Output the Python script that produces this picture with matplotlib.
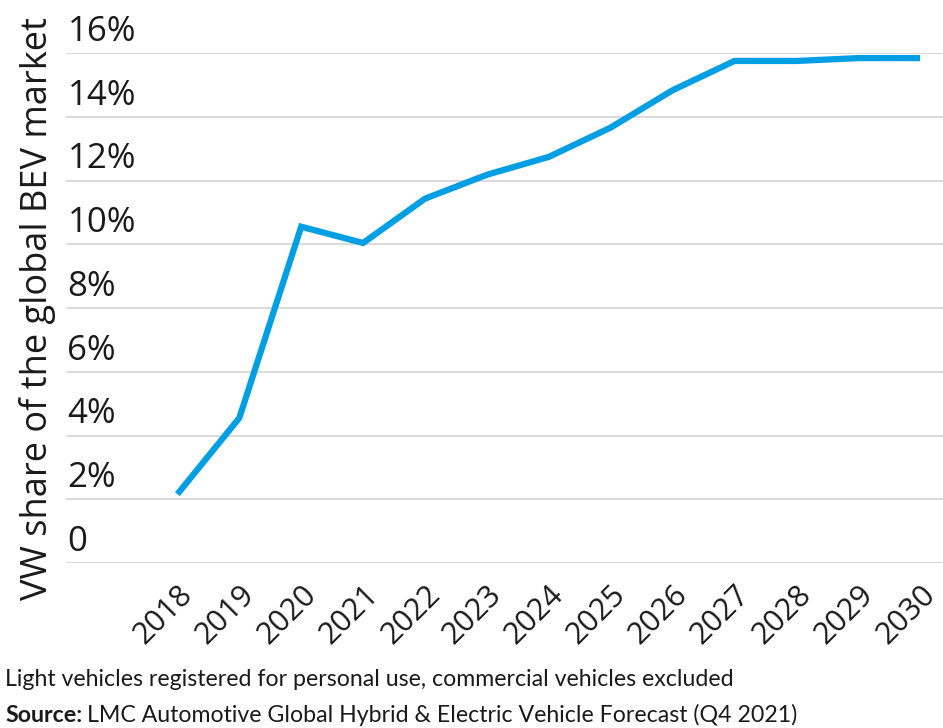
import numpy as np
import matplotlib
matplotlib.use("Agg")
import matplotlib.pyplot as plt
import matplotlib.transforms as mtrans

# data
years = [2018, 2019, 2020, 2021, 2022, 2023, 2024, 2025, 2026, 2027, 2028, 2029, 2030]
share = [2.16, 4.55, 10.55, 10.04, 11.43, 12.18, 12.74, 13.66, 14.83, 15.75, 15.75, 15.84, 15.84]
yticks = [0, 2, 4, 6, 8, 10, 12, 14, 16]
ytick_labels = ["0", "2%", "4%", "6%", "8%", "10%", "12%", "14%", "16%"]

plt.rcParams['font.family'] = ['Open Sans', 'DejaVu Sans']

fig = plt.figure(figsize=(9.43, 7.28), dpi=100)
ax = fig.add_axes([66/943, 1-563/728, 1-66/943, (563-53)/728])

ax.plot(years, share, color='#009fe3', lw=4.5, solid_capstyle='butt', solid_joinstyle='miter', zorder=3)

ax.set_ylim(0, 16)
ax.set_xlim(2016.2, 2030.37)
ax.set_yticks(yticks)
ax.set_yticklabels([])
ax.tick_params(axis='y', length=0)
ax.grid(axis='y', color='#d4d4d4', lw=1.2)
ax.set_axisbelow(True)
for s in ax.spines.values():
    s.set_visible(False)

# y labels sit above their gridline
trans = mtrans.blended_transform_factory(ax.transAxes, ax.transData)
for v, lab in zip(yticks, ytick_labels):
    ax.annotate(lab, (0, v), xycoords=trans, xytext=(1, 3), textcoords='offset points',
                ha='left', va='bottom', fontsize=25, color='#1a1a1a')

ax.set_xticks(years)
ax.set_xticklabels([str(y) for y in years], rotation=45, ha='right', rotation_mode='anchor',
                   fontsize=22, color='#1a1a1a')
ax.tick_params(axis='x', length=0, pad=12)

fig.text(38/943, 1-308/728, "VW share of the global BEV market", rotation=90,
         ha='center', va='center', fontsize=26, color='#1a1a1a')

foot = dict(ha='left', va='center', fontsize=16.7, color='#1a1a1a', family=['Lato', 'DejaVu Sans'])
fig.text(5/943, 1-680/728, "Light vehicles registered for personal use, commercial vehicles excluded", **foot)
src = fig.text(5/943, 1-715/728, "Source:", fontweight='bold', **foot)
fig.canvas.draw()
bb = src.get_window_extent()
fig.text((bb.x1 + 5)/943, 1-715/728,
         "LMC Automotive Global Hybrid & Electric Vehicle Forecast (Q4 2021)", **foot)

fig.savefig("out.png", dpi=100)
